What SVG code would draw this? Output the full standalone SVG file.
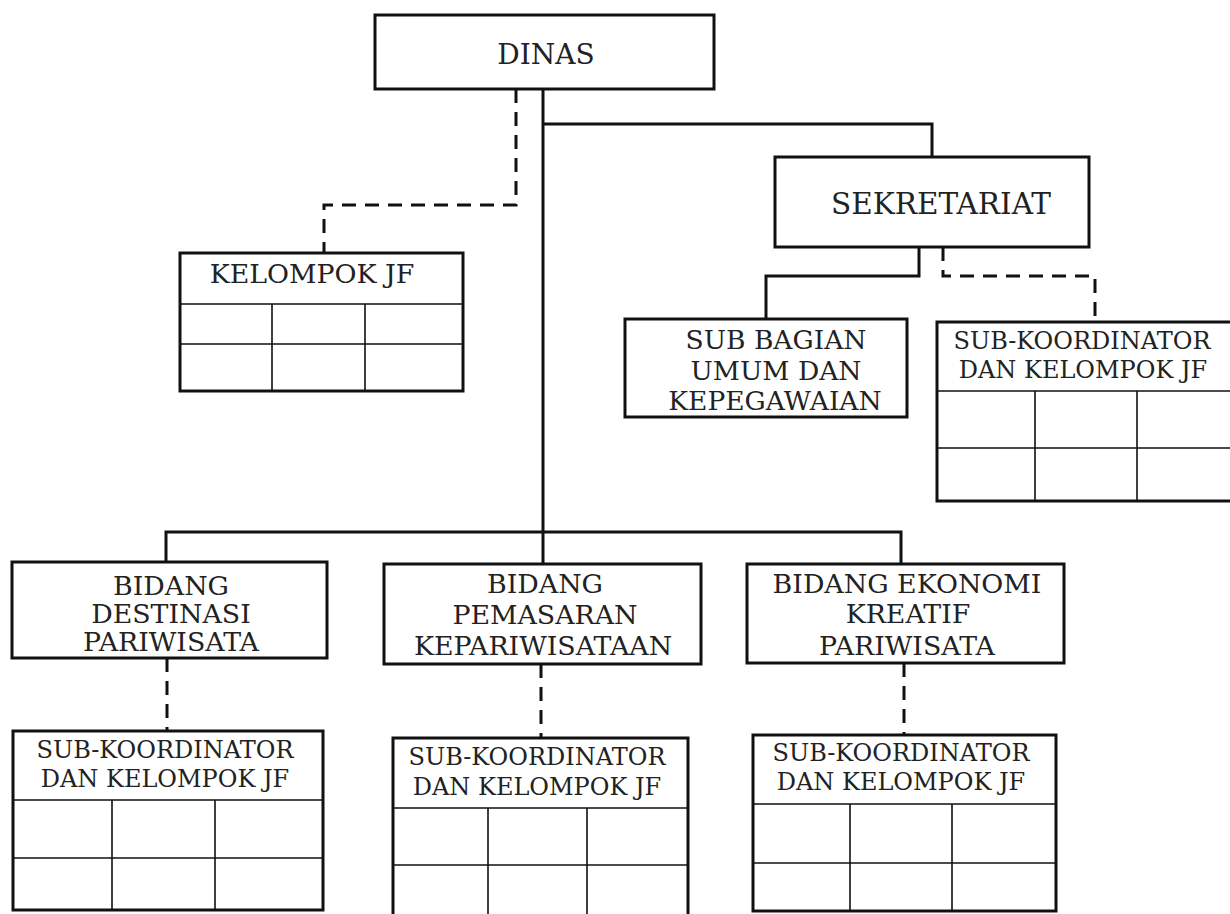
<svg xmlns="http://www.w3.org/2000/svg" width="1230" height="914" viewBox="0 0 1230 914">
<style>
.box{fill:#fff;stroke:#111;stroke-width:3}
.grid{fill:none;stroke:#111;stroke-width:1.6}
.ln{fill:none;stroke:#111;stroke-width:3}
.dash{fill:none;stroke:#111;stroke-width:3;stroke-dasharray:14 9}
text{font-family:"DejaVu Serif","Liberation Serif",serif;fill:#222;text-anchor:middle}
.t0{font-size:28px}
.t1{font-size:29.5px}
.t2{font-size:26.8px}
.t4{font-size:26.5px}
.t3{font-size:24px}
</style>
<rect x="0" y="0" width="1230" height="914" fill="#fff"/>
<g id="connectors">
<path class="ln" d="M543,89 V564"/>
<path class="ln" d="M543,124 H932 V157"/>
<path class="ln" d="M166,562 V532 H901 V564"/>
<path class="ln" d="M919,247 V276 H766 V319"/>
<path class="dash" d="M516,89 V205 H324 V253"/>
<path class="dash" d="M943,247 V276 H1095 V322"/>
<path class="dash" d="M167,658 V731"/>
<path class="dash" d="M541,664 V738"/>
<path class="dash" d="M904,663 V735"/>
</g>
<g id="dinas">
<rect class="box" x="375" y="15" width="339" height="74"/>
<text class="t0" x="546" y="64">DINAS</text>
</g>
<g id="kelompok-jf">
<rect class="box" x="180" y="253" width="283" height="138"/>
<path class="grid" d="M180,304 H463 M180,344 H463 M272,304 V391 M365,304 V391"/>
<text class="t2" x="312" y="283">KELOMPOK JF</text>
</g>
<g id="sekretariat">
<rect class="box" x="775" y="157" width="314" height="90"/>
<text class="t1" x="941" y="214">SEKRETARIAT</text>
</g>
<g id="sub-bagian">
<rect class="box" x="625" y="319" width="282" height="98"/>
<text class="t4" x="776" y="349">SUB BAGIAN</text>
<text class="t4" x="776" y="380">UMUM DAN</text>
<text class="t4" x="775" y="410">KEPEGAWAIAN</text>
</g>
<g id="subkoord-sekretariat">
<rect class="box" x="937" y="322" width="303" height="179"/>
<path class="grid" d="M937,391 H1240 M937,448 H1240 M1035,391 V501 M1137,391 V501"/>
<text class="t3" x="1082" y="349">SUB-KOORDINATOR</text>
<text class="t3" x="1083" y="378">DAN KELOMPOK JF</text>
</g>
<g id="bidang-destinasi">
<rect class="box" x="12" y="562" width="315" height="96"/>
<text class="t2" x="171" y="595">BIDANG</text>
<text class="t2" x="171" y="623">DESTINASI</text>
<text class="t2" x="171" y="651">PARIWISATA</text>
</g>
<g id="bidang-pemasaran">
<rect class="box" x="384" y="564" width="317" height="100"/>
<text class="t2" x="545" y="593">BIDANG</text>
<text class="t2" x="545" y="624">PEMASARAN</text>
<text class="t2" x="543" y="655">KEPARIWISATAAN</text>
</g>
<g id="bidang-ekonomi">
<rect class="box" x="747" y="564" width="317" height="99"/>
<text class="t2" x="907" y="593">BIDANG EKONOMI</text>
<text class="t2" x="908" y="623">KREATIF</text>
<text class="t2" x="907" y="655">PARIWISATA</text>
</g>
<g id="subkoord-destinasi">
<rect class="box" x="13" y="731" width="310" height="179"/>
<path class="grid" d="M13,800 H323 M13,858 H323 M112,800 V910 M215,800 V910"/>
<text class="t3" x="165" y="758">SUB-KOORDINATOR</text>
<text class="t3" x="165" y="787">DAN KELOMPOK JF</text>
</g>
<g id="subkoord-pemasaran">
<rect class="box" x="393" y="738" width="295" height="190"/>
<path class="grid" d="M393,808 H688 M393,865 H688 M488,808 V928 M587,808 V928"/>
<text class="t3" x="537" y="765">SUB-KOORDINATOR</text>
<text class="t3" x="537" y="795">DAN KELOMPOK JF</text>
</g>
<g id="subkoord-ekonomi">
<rect class="box" x="753" y="735" width="303" height="176"/>
<path class="grid" d="M753,804 H1056 M753,863 H1056 M850,804 V911 M952,804 V911"/>
<text class="t3" x="901" y="761">SUB-KOORDINATOR</text>
<text class="t3" x="901" y="790">DAN KELOMPOK JF</text>
</g>
</svg>
